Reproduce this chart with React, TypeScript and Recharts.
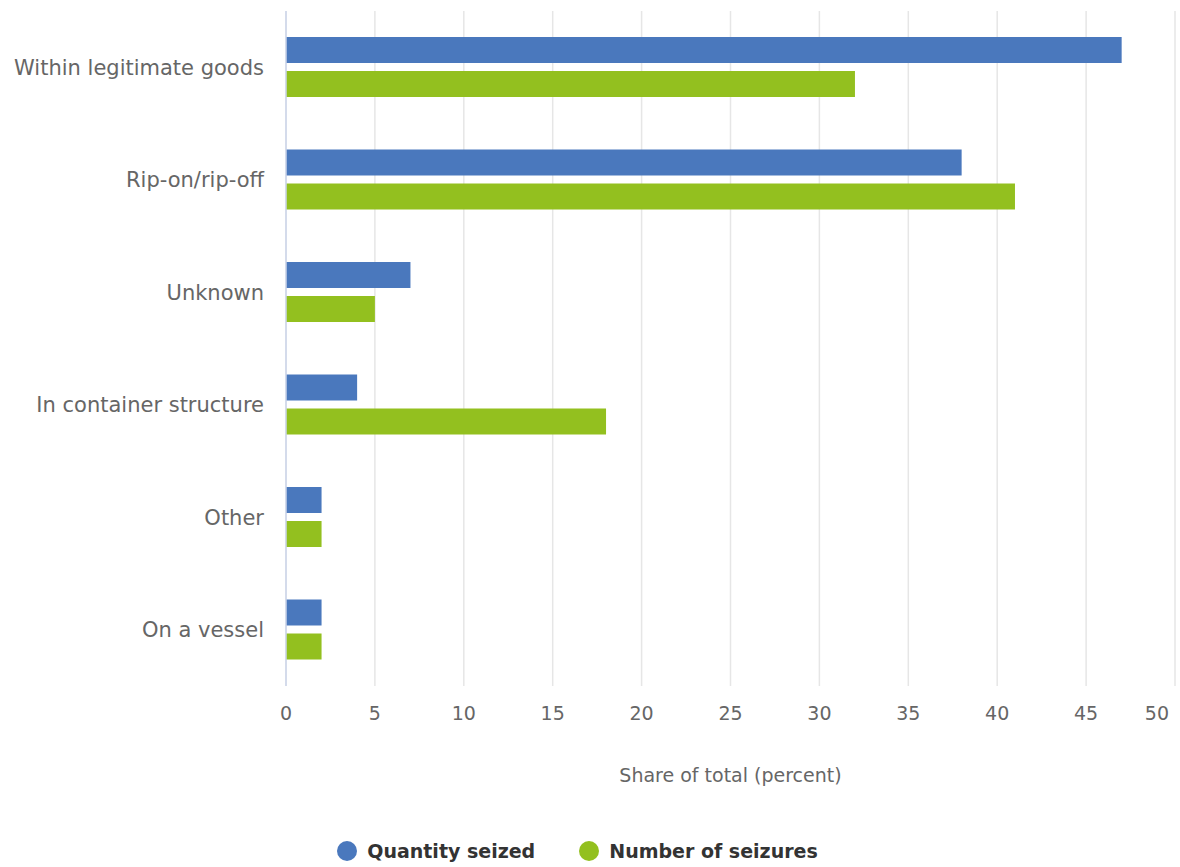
import { BarChart, Bar, XAxis, YAxis, CartesianGrid, Legend } from 'recharts';

const categories = ['Within legitimate goods', 'Rip-on/rip-off', 'Unknown', 'In container structure', 'Other', 'On a vessel'];
const quantitySeized = [47, 38, 7, 4, 2, 2];
const numberOfSeizures = [32, 41, 5, 18, 2, 2];
const xTicks = [0, 5, 10, 15, 20, 25, 30, 35, 40, 45, 50];

const series = [
  { key: 'quantity', name: 'Quantity seized', color: '#4a78bd' },
  { key: 'seizures', name: 'Number of seizures', color: '#93c01f' },
];

const data = categories.map((c, i) => ({ category: c, quantity: quantitySeized[i], seizures: numberOfSeizures[i] }));

const font = '"DejaVu Sans", Verdana, sans-serif';

function LegendContent() {
  return (
    <div style={{ display: 'flex', justifyContent: 'center', gap: 44, fontFamily: font, fontSize: 19, fontWeight: 'bold', color: '#333', paddingRight: 20 }}>
      {series.map(s => (
        <div key={s.key} style={{ display: 'flex', alignItems: 'center', gap: 10 }}>
          <span style={{ width: 20, height: 20, borderRadius: 10, background: s.color, display: 'inline-block' }} />
          <span>{s.name}</span>
        </div>
      ))}
    </div>
  );
}

// last tick label is pulled inside the chart, like the original
function XTick(props: any) {
  const { x, y, payload } = props;
  const last = payload.value === xTicks[xTicks.length - 1];
  return (
    <text x={last ? x - 3 : x} y={y} dy={14} textAnchor={last ? 'end' : 'middle'} fill="#666" fontSize={19} fontFamily={font}>
      {payload.value}
    </text>
  );
}

export default function App() {
  return (
    <div style={{ position: 'absolute', left: 0, top: 0, width: 1180, height: 867, background: '#fff' }}>
      <BarChart width={1180} height={867} data={data} layout="vertical"
        margin={{ top: 11, right: 5, bottom: 32, left: 0 }} barSize={26} barGap={8}>
        <CartesianGrid horizontal={false} stroke="#e6e6e6" strokeWidth={1.5} />
        <XAxis type="number" domain={[0, 50]} ticks={xTicks} height={109} axisLine={false} tickLine={false}
          tick={<XTick />} tickMargin={14}
          label={{ value: 'Share of total (percent)', position: 'insideTop', offset: 83, fill: '#666', fontSize: 19, fontFamily: font }} />
        <YAxis type="category" dataKey="category" width={286} axisLine={{ stroke: '#ccd6eb', strokeWidth: 1.5 }} tickLine={false}
          tick={{ fill: '#666', fontSize: 21, fontFamily: font }} tickMargin={16} />
        <Legend verticalAlign="bottom" height={40} wrapperStyle={{ top: 840, bottom: 'auto' }} content={<LegendContent />} />
        {series.map(s => (
          <Bar key={s.key} dataKey={s.key} name={s.name} fill={s.color} isAnimationActive={false} />
        ))}
      </BarChart>
    </div>
  );
}
